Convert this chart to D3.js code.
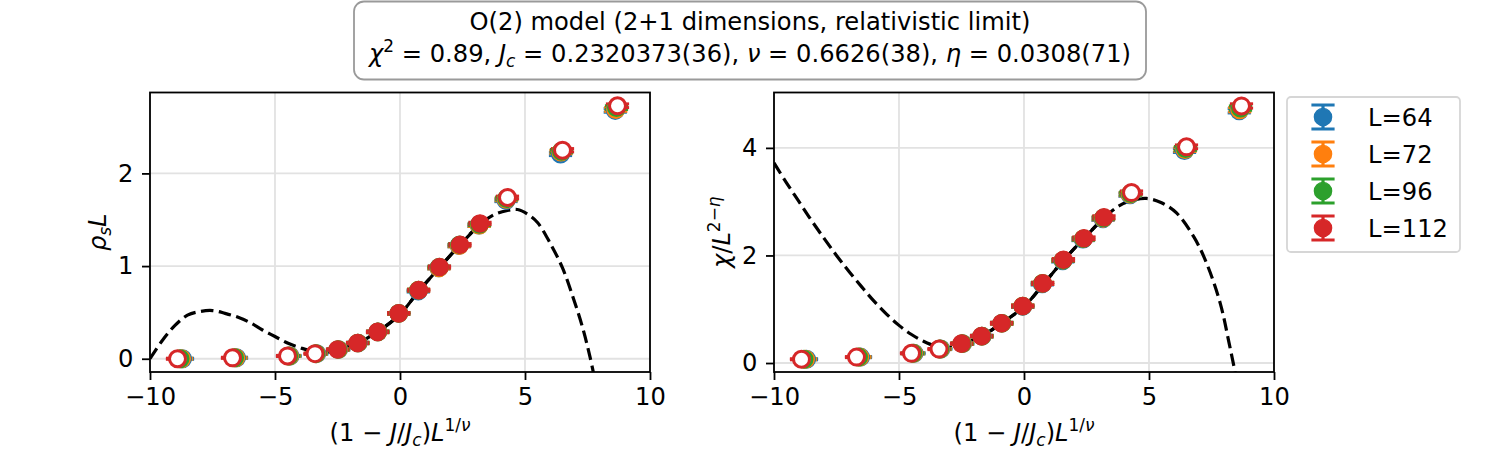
<!DOCTYPE html>
<html>
<head>
<meta charset="utf-8">
<script src="https://cdn.jsdelivr.net/npm/d3@7"></script>
<style>
  body { margin: 0; background: #fff; }
  text { font-family: "DejaVu Sans", sans-serif; }
</style>
</head>
<body>
<div id="chart"></div>
<script>
// values
var sizes = ["L=64", "L=72", "L=96", "L=112"];
var colors = ["#1f77b4", "#ff7f0e", "#2ca02c", "#d62728"];

var xL64  = [-8.7, -6.54, -4.4, -3.33, -2.45, -1.67, -0.88, -0.05, 0.73, 1.55, 2.36, 3.16, 4.24, 6.42, 8.61];
var xL72  = [-8.74, -6.57, -4.42, -3.35, -2.46, -1.68, -0.88, -0.05, 0.74, 1.56, 2.37, 3.17, 4.25, 6.44, 8.63];
var xL96  = [-8.8, -6.62, -4.45, -3.37, -2.48, -1.69, -0.89, -0.05, 0.74, 1.57, 2.38, 3.18, 4.27, 6.46, 8.66];
var xL112 = [-8.9, -6.7, -4.5, -3.4, -2.5, -1.7, -0.9, -0.05, 0.75, 1.58, 2.4, 3.2, 4.3, 6.5, 8.7];

var rhoL64  = [0.0, 0.01, 0.03, 0.055, 0.1, 0.17, 0.29, 0.49, 0.73, 0.98, 1.22, 1.44, 1.71, 2.21, 2.68];
var rhoL72  = [0.0, 0.01, 0.03, 0.055, 0.1, 0.17, 0.29, 0.49, 0.74, 0.98, 1.22, 1.44, 1.72, 2.23, 2.69];
var rhoL96  = [0.0, 0.01, 0.03, 0.055, 0.1, 0.17, 0.29, 0.49, 0.74, 0.99, 1.23, 1.45, 1.73, 2.24, 2.71];
var rhoL112 = [0.0, 0.01, 0.03, 0.055, 0.1, 0.17, 0.29, 0.49, 0.74, 0.99, 1.23, 1.46, 1.74, 2.25, 2.73];
var rhoErr  = [0.006, 0.006, 0.006, 0.006, 0.006, 0.007, 0.008, 0.009, 0.01, 0.011, 0.012, 0.013, 0.015, 0.018, 0.02];

var chiL64  = [0.07, 0.11, 0.18, 0.26, 0.36, 0.5, 0.74, 1.05, 1.47, 1.9, 2.3, 2.68, 3.13, 3.95, 4.69];
var chiL72  = [0.07, 0.11, 0.18, 0.26, 0.36, 0.5, 0.74, 1.06, 1.48, 1.91, 2.31, 2.69, 3.14, 3.97, 4.71];
var chiL96  = [0.07, 0.11, 0.18, 0.26, 0.36, 0.5, 0.74, 1.06, 1.48, 1.91, 2.31, 2.7, 3.15, 3.99, 4.74];
var chiL112 = [0.07, 0.11, 0.18, 0.26, 0.36, 0.5, 0.74, 1.06, 1.48, 1.92, 2.32, 2.71, 3.17, 4.02, 4.78];
var chiErr  = [0.01, 0.01, 0.01, 0.01, 0.012, 0.014, 0.016, 0.018, 0.02, 0.022, 0.025, 0.028, 0.03, 0.035, 0.04];

// 1 = point used in the fit (filled marker), 0 = excluded (open marker)
var inFit = [0, 0, 0, 0, 1, 1, 1, 1, 1, 1, 1, 1, 0, 0, 0];

// fitted scaling curves (dashed), solid inside the fit window
var rhoCurveX = [-10, -9.5, -9, -8.5, -8, -7.5, -7, -6.5, -6, -5.5, -5, -4.5, -4, -3.5, -3, -2.5, -1.7, -0.9, 0, 0.75, 1.6, 2.4, 3.2, 3.8, 4.3, 4.7, 5.1, 5.5, 6.0, 6.5, 6.9, 7.3, 7.6, 7.85];
var rhoCurveY = [0, 0.2, 0.36, 0.47, 0.51, 0.52, 0.49, 0.45, 0.39, 0.31, 0.24, 0.17, 0.12, 0.08, 0.07, 0.1, 0.17, 0.29, 0.48, 0.73, 0.99, 1.23, 1.45, 1.56, 1.6, 1.61, 1.56, 1.47, 1.25, 0.98, 0.68, 0.34, 0.02, -0.3];
var chiCurveX = [-10, -9.5, -9, -8.5, -8, -7.5, -7, -6.5, -6, -5.5, -5, -4.5, -4, -3.5, -3, -2.5, -1.7, -0.9, 0, 0.8, 1.6, 2.4, 3.2, 3.8, 4.3, 4.9, 5.5, 6.1, 6.8, 7.3, 7.85, 8.2, 8.5];
var chiCurveY = [3.72, 3.35, 3.0, 2.65, 2.32, 2.0, 1.7, 1.42, 1.15, 0.91, 0.7, 0.53, 0.4, 0.31, 0.29, 0.35, 0.5, 0.74, 1.05, 1.48, 1.92, 2.32, 2.7, 2.92, 3.02, 3.06, 2.98, 2.79, 2.34, 1.86, 1.11, 0.38, -0.3];
var fitLo = -2.5, fitHi = 3.2;

var xTicks = [-10, -5, 0, 5, 10];
var rhoTicks = [0, 1, 2];
var chiTicks = [0, 2, 4];

var fs = 24.2;

var svg = d3.select("#chart").append("svg")
  .attr("width", 1500)
  .attr("height", 465);

// helper for the little bits of mathtext
function mathText(sel, parts, size) {
  var shift = 0;
  parts.forEach(function(p) {
    var target = p.sub ? 0.2 * size : (p.sup ? -0.42 * size : 0);
    sel.append("tspan")
      .attr("dy", target - shift)
      .style("font-size", ((p.sub || p.sup) ? size * 0.7 : size) + "px")
      .style("font-style", p.it ? "italic" : "normal")
      .text(p.t);
    shift = target;
  });
}

var xLabelParts = [
  {t: "(1 \u2212 "}, {t: "J", it: true}, {t: "/"}, {t: "J", it: true}, {t: "c", it: true, sub: true},
  {t: ")"}, {t: "L", it: true}, {t: "1/", sup: true}, {t: "\u03bd", it: true, sup: true}
];

function panel(id, left, yDomain, yTicks, xs, ys, err, cx, cy, yLabelParts, yLabelX) {
  var top = 92.5, bottom = 372, width = 500;
  var x = d3.scaleLinear().domain([-10, 10]).range([left, left + width]);
  var y = d3.scaleLinear().domain(yDomain).range([bottom, top]);

  svg.append("clipPath").attr("id", "clip" + id)
    .append("rect")
    .attr("x", left).attr("y", top)
    .attr("width", width).attr("height", bottom - top);

  // grid
  var grid = svg.append("g");
  grid.selectAll("line.gx").data(xTicks).enter().append("line")
    .attr("x1", function(d) { return x(d); }).attr("x2", function(d) { return x(d); })
    .attr("y1", top).attr("y2", bottom)
    .style("stroke", "#e2e2e2").style("stroke-width", 1.8);
  grid.selectAll("line.gy").data(yTicks).enter().append("line")
    .attr("x1", left).attr("x2", left + width)
    .attr("y1", function(d) { return y(d); }).attr("y2", function(d) { return y(d); })
    .style("stroke", "#e2e2e2").style("stroke-width", 1.8);

  // curves
  var pts = cx.map(function(d, i) { return [d, cy[i]]; });
  var line = d3.line()
    .x(function(d) { return x(d[0]); })
    .y(function(d) { return y(d[1]); })
    .curve(d3.curveCatmullRom);
  var curves = svg.append("g").attr("clip-path", "url(#clip" + id + ")");
  curves.append("path")
    .attr("d", line(pts))
    .style("fill", "none").style("stroke", "#000")
    .style("stroke-width", 3.2).style("stroke-dasharray", "12.5,5.5");
  curves.append("path")
    .attr("d", line(pts.filter(function(d) { return d[0] >= fitLo && d[0] <= fitHi; })))
    .style("fill", "none").style("stroke", "#000").style("stroke-width", 3.2);

  // error bars first (all series), then the markers on top
  var bars = svg.append("g");
  xs.forEach(function(xv, s) {
    xv.forEach(function(d, i) {
      var v = ys[s][i], e = err[i];
      bars.append("line")
        .attr("x1", x(d)).attr("x2", x(d))
        .attr("y1", y(v - e)).attr("y2", y(v + e))
        .style("stroke", colors[s]).style("stroke-width", 3.2);
      [v - e, v + e].forEach(function(c) {
        bars.append("line")
          .attr("x1", x(d) - 11.6).attr("x2", x(d) + 11.6)
          .attr("y1", y(c)).attr("y2", y(c))
          .style("stroke", colors[s]).style("stroke-width", 3);
      });
    });
  });
  var marks = svg.append("g");
  xs.forEach(function(xv, s) {
    xv.forEach(function(d, i) {
      var filled = inFit[i] === 1;
      marks.append("circle")
        .attr("cx", x(d)).attr("cy", y(ys[s][i]))
        .attr("r", filled ? 8.6 : 8)
        .style("fill", filled ? colors[s] : "#fff")
        .style("stroke", colors[s])
        .style("stroke-width", filled ? 1.4 : 3);
    });
  });

  // frame
  svg.append("rect")
    .attr("x", left).attr("y", top)
    .attr("width", width).attr("height", bottom - top)
    .style("fill", "none").style("stroke", "#000").style("stroke-width", 1.8);

  // axes
  var gx = svg.append("g")
    .attr("transform", "translate(0," + bottom + ")")
    .call(d3.axisBottom(x).tickValues(xTicks).tickFormat(d3.format("d"))
      .tickSize(8).tickSizeOuter(0).tickPadding(8));
  var gy = svg.append("g")
    .attr("transform", "translate(" + left + ",0)")
    .call(d3.axisLeft(y).tickValues(yTicks).tickFormat(d3.format("d"))
      .tickSize(8).tickSizeOuter(0).tickPadding(8.5));
  [gx, gy].forEach(function(g) {
    g.select(".domain").remove();
    g.selectAll("line").style("stroke", "#000").style("stroke-width", 1.8);
    g.selectAll("text").attr("font-family", "DejaVu Sans").style("font-size", fs + "px").style("fill", "#000");
  });

  // axis labels
  var xl = svg.append("text")
    .attr("x", left + width / 2).attr("y", 441)
    .attr("text-anchor", "middle")
    .style("font-size", fs + "px");
  mathText(xl, xLabelParts, fs);

  var yl = svg.append("text")
    .attr("transform", "translate(" + yLabelX + "," + ((top + bottom) / 2) + ") rotate(-90)")
    .attr("text-anchor", "middle")
    .style("font-size", fs + "px");
  mathText(yl, yLabelParts, fs);
}

panel("a", 150, [-0.143, 2.873], rhoTicks,
  [xL64, xL72, xL96, xL112], [rhoL64, rhoL72, rhoL96, rhoL112], rhoErr,
  rhoCurveX, rhoCurveY,
  [{t: "\u03c1", it: true}, {t: "s", it: true, sub: true}, {t: "L", it: true}], 106);

panel("b", 774, [-0.167, 5.03], chiTicks,
  [xL64, xL72, xL96, xL112], [chiL64, chiL72, chiL96, chiL112], chiErr,
  chiCurveX, chiCurveY,
  [{t: "\u03c7", it: true}, {t: "/"}, {t: "L", it: true}, {t: "2\u2212", sup: true}, {t: "\u03b7", it: true, sup: true}], 730);

// title box
svg.append("rect")
  .attr("x", 354).attr("y", 1.5)
  .attr("width", 792).attr("height", 78)
  .attr("rx", 10)
  .style("fill", "#fff").style("stroke", "#9a9a9a").style("stroke-width", 1.8);
svg.append("text")
  .attr("x", 750).attr("y", 30)
  .attr("text-anchor", "middle")
  .style("font-size", fs + "px")
  .text("O(2) model (2+1 dimensions, relativistic limit)");
var t2 = svg.append("text")
  .attr("x", 750).attr("y", 62)
  .attr("text-anchor", "middle")
  .style("font-size", fs + "px");
mathText(t2, [
  {t: "\u03c7", it: true}, {t: "2", sup: true}, {t: " = 0.89, "},
  {t: "J", it: true}, {t: "c", it: true, sub: true}, {t: " = 0.2320373(36), "},
  {t: "\u03bd", it: true}, {t: " = 0.6626(38), "},
  {t: "\u03b7", it: true}, {t: " = 0.0308(71)"}
], fs);

// legend
var lg = svg.append("g");
lg.append("rect")
  .attr("x", 1287).attr("y", 97)
  .attr("width", 173).attr("height", 155)
  .attr("rx", 4)
  .style("fill", "#fff").style("stroke", "#d6d6d6").style("stroke-width", 1.8);
sizes.forEach(function(name, i) {
  var yy = 117 + i * 37, xx = 1323;
  lg.append("line").attr("x1", xx).attr("x2", xx).attr("y1", yy - 12).attr("y2", yy + 12)
    .style("stroke", colors[i]).style("stroke-width", 3.2);
  [yy - 12, yy + 12].forEach(function(c) {
    lg.append("line").attr("x1", xx - 11.6).attr("x2", xx + 11.6).attr("y1", c).attr("y2", c)
      .style("stroke", colors[i]).style("stroke-width", 3);
  });
  lg.append("circle").attr("cx", xx).attr("cy", yy).attr("r", 8.6)
    .style("fill", colors[i]).style("stroke", colors[i]).style("stroke-width", 1.4);
  lg.append("text").attr("x", 1368).attr("y", yy + 8.6)
    .style("font-size", fs + "px").text(name);
});
</script>
</body>
</html>
